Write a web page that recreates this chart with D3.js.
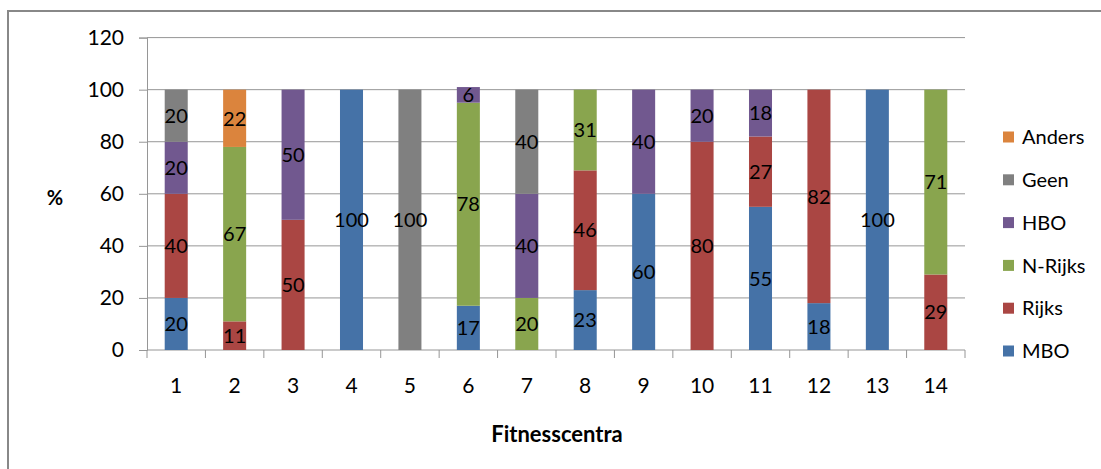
<!DOCTYPE html>
<html>
<head>
<meta charset="utf-8">
<script src="https://cdn.jsdelivr.net/npm/d3@7"></script>
<style>
  html, body { margin: 0; padding: 0; background: #fff; }
  svg { display: block; font-family: Lato, "Open Sans", sans-serif; }
</style>
</head>
<body>
<svg id="chart" width="1101" height="469"></svg>
<script>
const categories = ["1","2","3","4","5","6","7","8","9","10","11","12","13","14"];
const seriesNames = ["MBO","Rijks","N-Rijks","HBO","Geen","Anders"];
const MBO    = [20, 0,  0, 100,   0, 17,  0, 23, 60,  0, 55, 18, 100,  0];
const Rijks  = [40, 11, 50,  0,   0,  0,  0, 46,  0, 80, 27, 82,   0, 29];
const NRijks = [ 0, 67,  0,  0,   0, 78, 20, 31,  0,  0,  0,  0,   0, 71];
const HBO    = [20,  0, 50,  0,   0,  6, 40,  0, 40, 20, 18,  0,   0,  0];
const Geen   = [20,  0,  0,  0, 100,  0, 40,  0,  0,  0,  0,  0,   0,  0];
const Anders = [ 0, 22,  0,  0,   0,  0,  0,  0,  0,  0,  0,  0,   0,  0];
const yTicks = [0, 20, 40, 60, 80, 100, 120];
const colors = ["#4572A7", "#AA4643", "#89A54E", "#71588F", "#808080", "#DB843D"];

const seriesValues = [MBO, Rijks, NRijks, HBO, Geen, Anders];
const table = categories.map((c, i) => {
  const row = { cat: c };
  seriesNames.forEach((s, j) => row[s] = seriesValues[j][i]);
  return row;
});

(function draw() {
const svg = d3.select("#chart");
const mLeft = 147, mRight = 965, mTop = 37.6, mBottom = 350;

// outer frame
svg.append("rect").attr("x", 8).attr("y", 11).attr("width", 1200).attr("height", 600)
  .attr("fill", "none").attr("stroke", "#888").attr("stroke-width", 2);

const x = d3.scaleBand().domain(categories).range([mLeft, mRight])
  .paddingInner(0.606).paddingOuter(0.303);
const y = d3.scaleLinear().domain([0, 120]).range([mBottom, mTop]);

// gridlines
svg.append("g").selectAll("line").data(yTicks.filter(t => t > 0)).join("line")
  .attr("x1", mLeft).attr("x2", mRight)
  .attr("y1", d => y(d)).attr("y2", d => y(d))
  .attr("stroke", "#969696").attr("stroke-width", 1);

// y axis
const yAxis = svg.append("g").attr("transform", `translate(${mLeft},0)`)
  .call(d3.axisLeft(y).tickValues(yTicks).tickSize(8).tickPadding(15));
yAxis.select(".domain").attr("stroke", "#969696");
yAxis.selectAll(".tick line").attr("stroke", "#969696");
yAxis.selectAll(".tick text").attr("font-size", 21).attr("fill", "#000")
  .attr("font-family", "Lato, sans-serif");

// x axis
const step = x.step();
const xAxisG = svg.append("g").attr("transform", `translate(0,${mBottom})`);
xAxisG.append("line").attr("x1", mLeft).attr("x2", mRight).attr("y1", 0).attr("y2", 0)
  .attr("stroke", "#969696");
const boundaries = d3.range(categories.length + 1).map(i => mLeft + i * step);
xAxisG.selectAll("line.tk").data(boundaries).join("line").attr("class", "tk")
  .attr("x1", d => d).attr("x2", d => d).attr("y1", 0).attr("y2", 8)
  .attr("stroke", "#969696");
const xAxis = svg.append("g").attr("transform", `translate(0,${mBottom})`)
  .call(d3.axisBottom(x).tickSize(0).tickPadding(28));
xAxis.select(".domain").remove();
xAxis.selectAll(".tick text").attr("font-size", 21).attr("fill", "#000")
  .attr("font-family", "Lato, sans-serif");

// stacked bars
const stack = d3.stack().keys(seriesNames);
const stacked = stack(table);
const layers = svg.append("g").selectAll("g").data(stacked).join("g")
  .attr("fill", (d, i) => colors[i]);
layers.selectAll("rect").data(d => d).join("rect")
  .attr("x", d => x(d.data.cat))
  .attr("width", x.bandwidth())
  .attr("y", d => y(d[1]))
  .attr("height", d => y(d[0]) - y(d[1]));

// data labels
const labels = svg.append("g");
stacked.forEach(layer => {
  layer.forEach(d => {
    const v = d[1] - d[0];
    if (v > 0) {
      labels.append("text")
        .attr("x", x(d.data.cat) + x.bandwidth() / 2)
        .attr("y", y((d[0] + d[1]) / 2))
        .attr("dy", "0.36em")
        .attr("text-anchor", "middle")
        .attr("font-size", 20)
        .attr("fill", "#000")
        .text(v);
    }
  });
});

// axis titles
svg.append("text").attr("x", 55).attr("y", 198).attr("dy", "0.36em")
  .attr("text-anchor", "middle").attr("font-size", 20).attr("font-weight", "bold")
  .attr("fill", "#000").text("%");
svg.append("text").attr("x", 557).attr("y", 434).attr("dy", "0.36em")
  .attr("text-anchor", "middle").attr("font-size", 22).attr("font-weight", "bold")
  .attr("fill", "#000").text("Fitnesscentra");

// legend
const legendOrder = seriesNames.map((s, i) => ({ name: s, color: colors[i] })).reverse();
const legendY = d3.scalePoint().domain(legendOrder.map(d => d.name)).range([137, 351]);
const lg = svg.append("g").selectAll("g").data(legendOrder).join("g")
  .attr("transform", d => `translate(1003,${legendY(d.name)})`);
lg.append("rect").attr("x", 0).attr("y", -5.5).attr("width", 11).attr("height", 11)
  .attr("fill", d => d.color);
lg.append("text").attr("x", 19).attr("y", 0).attr("dy", "0.36em")
  .attr("font-size", 20).attr("fill", "#000").text(d => d.name);
})();
</script>
</body>
</html>
